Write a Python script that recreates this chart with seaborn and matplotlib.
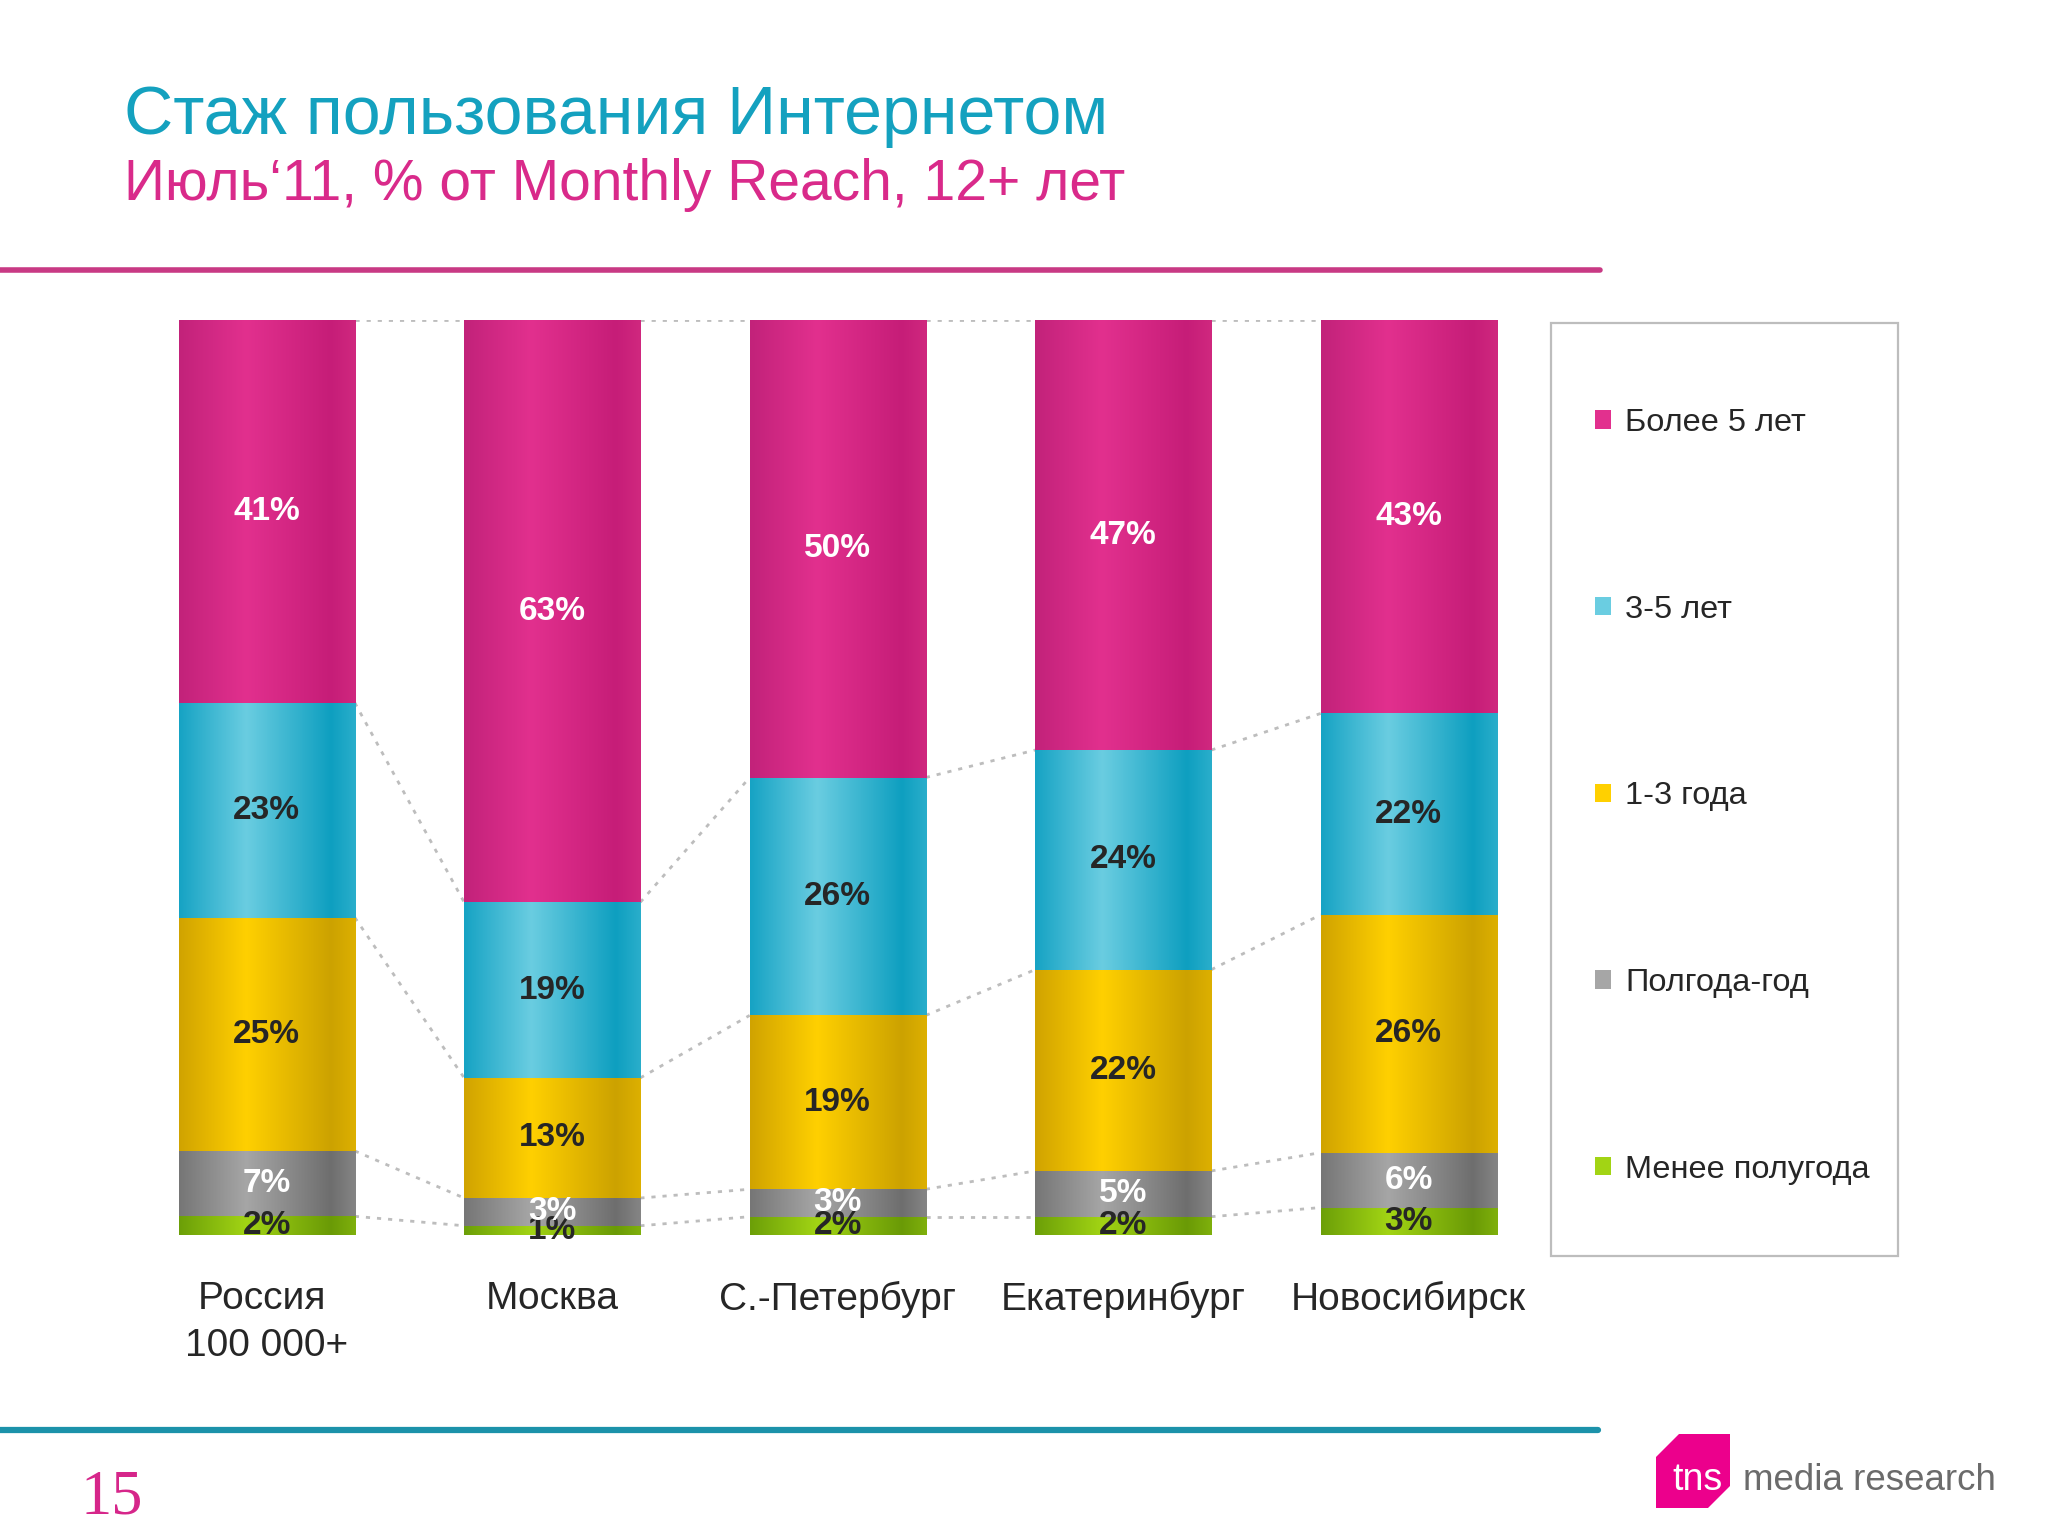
import numpy as np
import pandas as pd
import matplotlib
matplotlib.use("Agg")
import matplotlib.pyplot as plt
import seaborn as sns
from matplotlib.colors import LinearSegmentedColormap
from matplotlib.patches import Patch, Rectangle, Polygon
from matplotlib.lines import Line2D

# ---- data ----
cities = ["Россия \n100 000+", "Москва", "С.-Петербург", "Екатеринбург", "Новосибирск"]
# series from bottom to top of each bar
series = ["Менее полугода", "Полгода-год", "1-3 года", "3-5 лет", "Более 5 лет"]
less_half_year = [2, 1, 2, 2, 3]
half_to_year = [7, 3, 3, 5, 6]
one_to_three = [25, 13, 19, 22, 26]
three_to_five = [23, 19, 26, 24, 22]
over_five = [41, 63, 50, 47, 43]

# colours: (edge, highlight, dark stripe, right edge)
palette = {
    "Менее полугода": ["#6C9F08", "#A2D414", "#6A9A06", "#7FB00C"],
    "Полгода-год": ["#767676", "#A6A6A6", "#6E6E6E", "#858585"],
    "1-3 года": ["#D0A300", "#FFD000", "#CCA200", "#DDB000"],
    "3-5 лет": ["#16A3C4", "#6ACDE1", "#0E9FC0", "#2AAECB"],
    "Более 5 лет": ["#C2227A", "#E2308E", "#C61D78", "#D0287F"],
}
label_colors = ["#262626", "#FFFFFF", "#262626", "#262626", "#FFFFFF"]

W, H = 2048, 1536


def fx(px):
    return px / W


def fy(py):
    return 1 - py / H


sns.set_theme(style="white")
plt.rcParams["font.family"] = ["Liberation Sans", "DejaVu Sans"]

vals = np.array([less_half_year, half_to_year, one_to_three, three_to_five, over_five], dtype=float)
shares = vals / vals.sum(axis=0) * 100
cum = np.cumsum(shares, axis=0)

fig = plt.figure(figsize=(W / 100, H / 100), dpi=100)
fig.patch.set_facecolor("white")
ax = fig.add_axes([fx(124), fy(1235), fx(1551.5) - fx(124), fy(320) - fy(1235)])

bar_w = 0.617
grad = np.linspace(0, 1, 256)[np.newaxis, :]

# draw cumulative layers from the top series down so lower ones sit on top
for k in range(len(series) - 1, -1, -1):
    name = series[k]
    df = pd.DataFrame({"city": cities, "cum": cum[k]})
    n_before = len(ax.patches)
    sns.barplot(data=df, x="city", y="cum", order=cities, color=palette[name][1],
                width=bar_w, saturation=1, errorbar=None, linewidth=0, ax=ax)
    cmap = LinearSegmentedColormap.from_list(
        name, list(zip([0, 0.38, 0.86, 1.0], palette[name])))
    for p in ax.patches[n_before:]:
        x0, w, h = p.get_x(), p.get_width(), p.get_height()
        im = ax.imshow(grad, cmap=cmap, aspect="auto", extent=(x0, x0 + w, 0, h),
                       zorder=p.get_zorder(), interpolation="bicubic")
        im.set_clip_path(p)

# value labels
for k in range(len(series)):
    for i in range(len(cities)):
        y = cum[k, i] - shares[k, i] / 2
        ax.text(i, y, f"{int(vals[k, i])}%", ha="center", va="center", fontsize=24,
                fontweight="bold", color=label_colors[k], zorder=5)

# dotted series lines between bars
for i in range(len(cities) - 1):
    for k in range(len(series)):
        ax.plot([i + bar_w / 2, i + 1 - bar_w / 2], [cum[k, i], cum[k, i + 1]],
                color="#BDBDBD", lw=2, ls=(0, (1.5, 2.5)), zorder=0.5)

ax.set_xlim(-0.5, len(cities) - 0.5)
ax.set_ylim(0, 100)
ax.set_yticks([])
ax.set_xlabel("")
ax.set_ylabel("")
ax.tick_params(axis="x", length=0, pad=33, labelsize=28, labelcolor="#262626")
for lbl in ax.get_xticklabels():
    lbl.set_linespacing(1.4)
for s in ax.spines.values():
    s.set_visible(False)
ax.set_facecolor("none")

# legend
handles = [Patch(facecolor=palette[s][1], edgecolor="none") for s in series[::-1]]
fig.legend(handles, series[::-1], loc="upper left", bbox_to_anchor=(fx(1595), fy(408)),
           bbox_transform=fig.transFigure, frameon=False, fontsize=23.4,
           labelspacing=4.82, handlelength=0.5, handleheight=0.5, handletextpad=0.42,
           borderpad=0, borderaxespad=0, labelcolor="#262626")
fig.add_artist(Rectangle((fx(1551), fy(1256)), fx(1898) - fx(1551), fy(323) - fy(1256),
                         transform=fig.transFigure, fill=False, edgecolor="#BDBDBD", lw=1.6))

# titles and decorations
fig.text(fx(124), fy(134), "Стаж пользования Интернетом", fontsize=49, color="#14A1BF",
         va="baseline", ha="left")
fig.text(fx(124), fy(200), "Июль‘11, % от Monthly Reach, 12+ лет", fontsize=41,
         color="#D92A8A", va="baseline", ha="left")
fig.add_artist(Line2D([0, fx(1600)], [fy(270), fy(270)], transform=fig.transFigure,
                      color="#C83A84", lw=4))
fig.add_artist(Line2D([0, fx(1598)], [fy(1430), fy(1430)], transform=fig.transFigure,
                      color="#1C92AA", lw=4.5))
fig.text(fx(112), fy(1513), "15", fontsize=45, color="#D6268A", va="baseline", ha="center",
         family=["Liberation Serif", "DejaVu Serif"])

# logo
logo = [(1656, 1457), (1679, 1434), (1730, 1434), (1730, 1486), (1708, 1508), (1656, 1508)]
fig.add_artist(Polygon([(fx(a), fy(b)) for a, b in logo], closed=True,
                       transform=fig.transFigure, facecolor="#EC008C", edgecolor="none"))
fig.text(fx(1672), fy(1490), "tns", fontsize=27, color="white", va="baseline", ha="left")
fig.text(fx(1743), fy(1490), "media research", fontsize=26.5, color="#6B6B6B",
         va="baseline", ha="left")

fig.savefig("out.png", dpi=100)
